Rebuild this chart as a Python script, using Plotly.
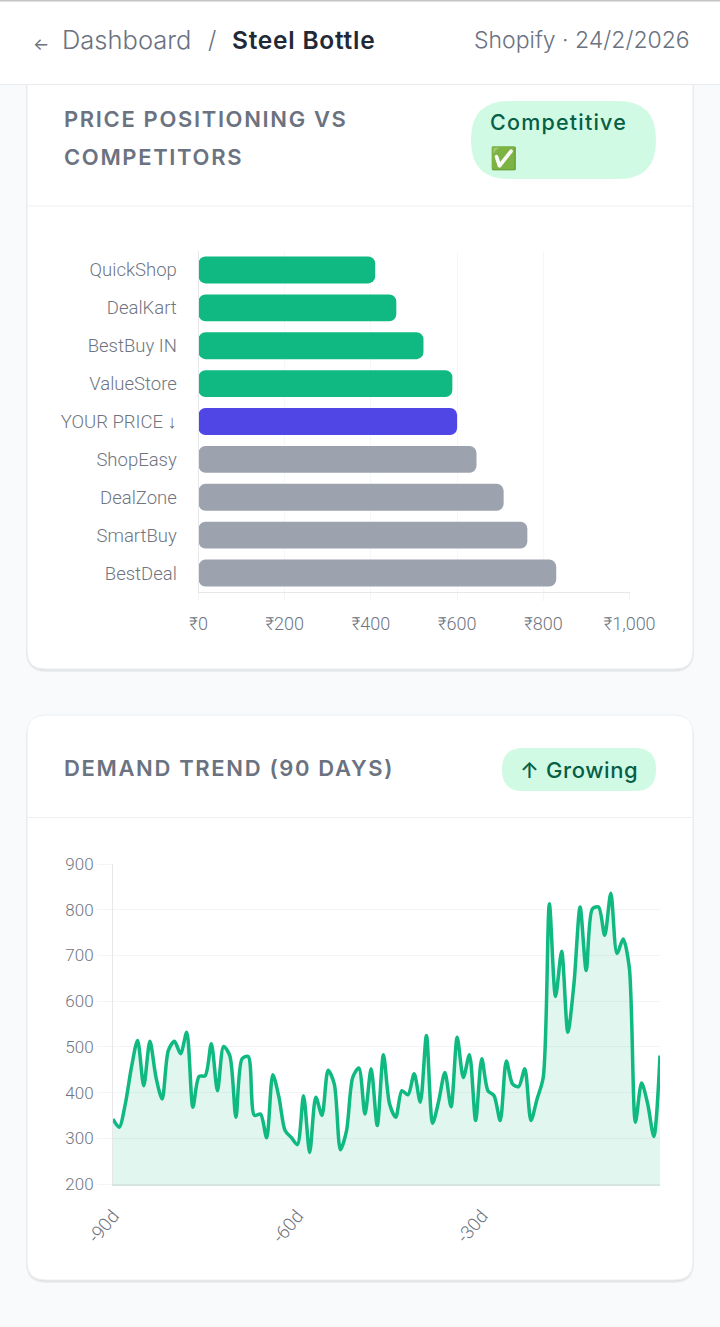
import plotly.graph_objects as go

W, H = 720, 1327

# ---- data ----
competitors = ["QuickShop", "DealKart", "BestBuy IN", "ValueStore", "YOUR PRICE ↓",
               "ShopEasy", "DealZone", "SmartBuy", "BestDeal"]
prices = [410, 459, 522, 589, 600, 645, 708, 763, 830]
bar_colors = ["#10b981", "#10b981", "#10b981", "#10b981", "#4f46e5",
              "#9ca3af", "#9ca3af", "#9ca3af", "#9ca3af"]
price_ticks = [0, 200, 400, 600, 800, 1000]
price_tick_labels = ["₹0", "₹200", "₹400", "₹600", "₹800", "₹1,000"]

days = list(range(-90, 0))
demand = [342, 324, 375, 455, 514, 415, 512, 433, 386, 492,
          512, 485, 532, 368, 435, 437, 507, 404, 501, 481,
          346, 474, 479, 350, 353, 301, 439, 390, 317, 302,
          286, 393, 269, 390, 350, 449, 419, 275, 317, 433,
          454, 353, 452, 328, 483, 375, 346, 404, 395, 441,
          379, 525, 333, 382, 444, 369, 521, 433, 483, 339,
          474, 404, 393, 339, 469, 419, 413, 452, 339, 386,
          433, 813, 610, 709, 532, 638, 806, 667, 802, 806,
          744, 836, 704, 736, 674, 335, 421, 375, 304, 481]
day_ticks = [-90, -60, -30]
day_tick_labels = ["-90d", "-60d", "-30d"]
demand_ticks = [200, 300, 400, 500, 600, 700, 800, 900]


def px(x):
    return x / W


def py(y):
    return 1 - y / H


def rrect(x0, y0, x1, y1, r, fill, line=None, opacity=1, layer="below"):
    p = (f"M {px(x0+r)} {py(y0)} L {px(x1-r)} {py(y0)} Q {px(x1)} {py(y0)} {px(x1)} {py(y0+r)} "
         f"L {px(x1)} {py(y1-r)} Q {px(x1)} {py(y1)} {px(x1-r)} {py(y1)} "
         f"L {px(x0+r)} {py(y1)} Q {px(x0)} {py(y1)} {px(x0)} {py(y1-r)} "
         f"L {px(x0)} {py(y0+r)} Q {px(x0)} {py(y0)} {px(x0+r)} {py(y0)} Z")
    return dict(type="path", xref="paper", yref="paper", path=p, fillcolor=fill, opacity=opacity,
                line=dict(color=line or fill, width=1 if line else 0), layer=layer)


def rect(x0, y0, x1, y1, fill):
    return dict(type="rect", xref="paper", yref="paper", x0=px(x0), x1=px(x1), y0=py(y1), y1=py(y0),
                fillcolor=fill, line=dict(width=0), layer="below")


def txt(x, y, s, size, color, anchor="left", family="Inter", weight=400, spacing=0):
    if spacing:
        s = f'<span style="letter-spacing:{spacing}px">{s}</span>'
    return dict(xref="paper", yref="paper", x=px(x), y=py(y), text=s, showarrow=False,
                xanchor=anchor, yanchor="middle",
                font=dict(family=family, size=size, color=color, weight=weight),
                borderpad=0, borderwidth=0)


shapes = []
for (t, b) in [(60, 669), (715, 1280)]:
    shapes.append(rrect(26, t + 2, 694, b + 3, 20, "#000000", opacity=0.05))
    shapes.append(rrect(26.5, t + 1, 693.5, b + 1.5, 20, "#000000", opacity=0.06))
    shapes.append(rrect(27, t, 693, b, 18, "#ffffff", line="#eceef1"))
shapes += [
    rect(0, 0, 720, 84, "#ffffff"),
    rect(0, 84, 720, 85, "#e8eaed"),
    rect(0, 0, 720, 1.5, "#c4c4c4"),
    rect(27, 205.5, 693, 206.5, "#eef0f2"),
    rect(27, 817, 693, 818, "#eef0f2"),
    rrect(471, 101, 656, 179, 38, "#d1fae5"),
    rrect(502, 748, 656, 791, 21, "#d1fae5"),
]

annotations = [
    txt(33, 44, "←", 17, "#6b7280"),
    txt(62, 40, "Dashboard", 25.5, "#6b7280", weight=300),
    txt(208, 40, "/", 24, "#6b7280", weight=300),
    txt(232, 40, "Steel Bottle", 24.5, "#1f2937", weight=600, spacing=0.75),
    txt(690, 40, "Shopify · 24/2/2026", 23, "#6b7280", anchor="right", weight=300),
    txt(64, 119, "PRICE POSITIONING VS", 22, "#6b7280", weight=600, spacing=1.65),
    txt(64, 157, "COMPETITORS", 22, "#6b7280", weight=600, spacing=1.65),
    txt(490, 122, "Competitive", 21.5, "#065f46", weight=500, spacing=1.2),
    txt(490, 158, "✅", 22, "#22c55e", family="DejaVu Sans"),
    txt(64, 768, "DEMAND TREND (90 DAYS)", 22, "#6b7280", weight=600, spacing=1.65),
    txt(520, 770, "↑ Growing", 22, "#065f46", weight=500, spacing=0.6),
]

fig = go.Figure()
# an explicit base makes Plotly round both ends of each bar
fig.add_trace(go.Bar(x=prices, base=[0] * len(prices), y=competitors, orientation="h",
                     marker=dict(color=bar_colors, line=dict(width=0), cornerradius=7),
                     xaxis="x", yaxis="y", showlegend=False, width=0.71))
fig.add_trace(go.Scatter(x=days, y=demand, mode="lines", xaxis="x2", yaxis="y2", showlegend=False,
                         line=dict(color="#10b981", width=3.5, shape="spline", smoothing=0.8),
                         fill="tozeroy", fillcolor="rgba(16,185,129,0.13)"))


def tick_font(size):
    return dict(family="Roboto", size=size, color="#6f757f", weight=300)


fig.update_layout(
    width=W, height=H, autosize=False, margin=dict(l=0, r=0, t=0, b=0, autoexpand=False),
    paper_bgcolor="#f8fafc", plot_bgcolor="rgba(0,0,0,0)",
    shapes=shapes, annotations=annotations,
    xaxis=dict(domain=[px(198.5), px(629.5)], anchor="y", range=[0, 1000], tickvals=price_ticks,
               ticktext=price_tick_labels, tickfont=tick_font(18), showgrid=True, gridcolor="#f6f7f8", gridwidth=1,
               showline=True, linecolor="#e5e7eb", linewidth=1, ticks="outside", ticklen=8, tickcolor="#f3f4f6",
               ticklabelstandoff=7, zeroline=False, fixedrange=True),
    yaxis=dict(domain=[py(592), py(251)], anchor="x", autorange="reversed", tickfont=tick_font(18.5),
               showgrid=False, showline=True, linecolor="#e5e7eb", linewidth=1, ticks="", ticklabelstandoff=17,
               zeroline=False, fixedrange=True),
    xaxis2=dict(domain=[px(113), px(660)], anchor="y2", range=[-90, -1], tickvals=day_ticks,
                ticktext=day_tick_labels, tickangle=-50, tickfont=tick_font(18.5),
                showgrid=False, showline=True, linecolor="#d5e5e0", linewidth=1.5, ticks="", zeroline=False,
                ticklabelstandoff=12, fixedrange=True),
    yaxis2=dict(domain=[py(1184), py(864)], anchor="x2", range=[200, 900], tickvals=demand_ticks, tickfont=tick_font(17),
                showgrid=True, gridcolor="#f3f4f6", gridwidth=1, showline=True, linecolor="#e5e7eb", linewidth=1,
                ticks="outside", ticklen=15, tickcolor="#f3f4f6", zeroline=False, fixedrange=True),
)
fig.write_html("out.html", config=dict(displayModeBar=False),
               post_script="document.body.style.margin='0';document.body.style.background='#f8fafc';"
                           "Plotly.relayout('{plot_id}',{width:720,height:1327});")
